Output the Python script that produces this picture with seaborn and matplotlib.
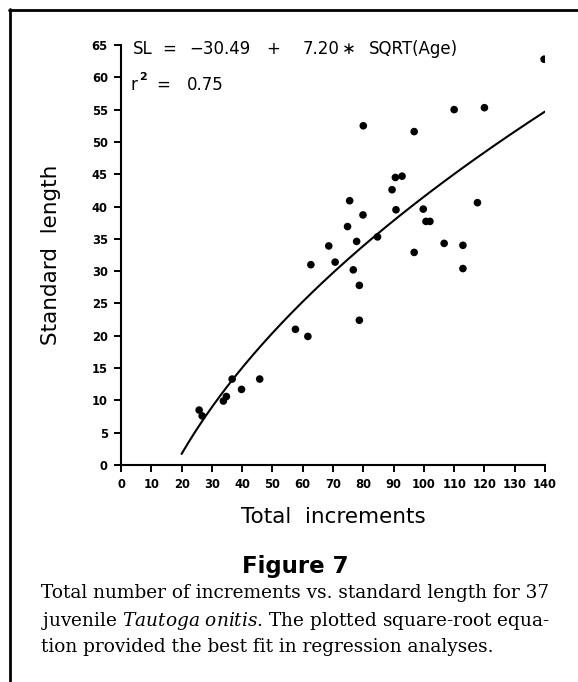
import numpy as np
import pandas as pd
import matplotlib
matplotlib.use("Agg")
import matplotlib.pyplot as plt
import seaborn as sns
from matplotlib.lines import Line2D

# ---- data ----
increments = [25.8, 26.8, 33.8, 34.8, 36.7, 39.8, 45.8, 57.6, 61.7, 62.7,
              68.6, 70.7, 74.8, 75.5, 76.7, 77.8, 78.7, 78.7, 79.9, 80.0,
              84.7, 89.5, 90.6, 90.8, 92.8, 96.8, 96.8, 99.8, 100.7, 102.0,
              106.7, 110.0, 112.9, 112.9, 117.7, 120.0, 139.7]
std_length = [8.5, 7.6, 9.9, 10.6, 13.3, 11.7, 13.3, 21.0, 19.9, 31.0,
              33.9, 31.4, 36.9, 40.9, 30.2, 34.6, 27.8, 22.4, 38.7, 52.5,
              35.3, 42.6, 44.5, 39.5, 44.7, 51.6, 32.9, 39.6, 37.7, 37.7,
              34.3, 55.0, 34.0, 30.4, 40.6, 55.3, 62.8]
fit_intercept = -30.49
fit_slope = 7.20
fit_range = [20, 140]
xticks = list(range(0, 141, 10))
yticks = list(range(0, 66, 5))

df = pd.DataFrame({"x": increments, "y": std_length})
xf = np.linspace(fit_range[0], fit_range[1], 300)
fit_df = pd.DataFrame({"x": xf, "y": fit_intercept + fit_slope * np.sqrt(xf)})

sns.set_theme(style="white")
plt.rcParams["font.family"] = ["DejaVu Sans"]
plt.rcParams["mathtext.fontset"] = "custom"
plt.rcParams["mathtext.rm"] = "DejaVu Serif"
plt.rcParams["mathtext.it"] = "DejaVu Serif:italic"

W, H = 578, 682
fig = plt.figure(figsize=(W / 100, H / 100), dpi=100)
fig.patch.set_facecolor("white")

def fx(px):
    return px / W

def fy(py):
    return 1 - py / H

ax = fig.add_axes([fx(121), fy(465), 424 / W, 420 / H])
sns.scatterplot(data=df, x="x", y="y", ax=ax, s=30, color="black",
                edgecolor="none", linewidth=0, legend=False)
sns.lineplot(data=fit_df, x="x", y="y", ax=ax, color="black", lw=1.5)

ax.set_xlim(0, 140)
ax.set_ylim(0, 65)
ax.set_xticks(xticks)
ax.set_yticks(yticks)
ax.set_xticklabels([str(t) for t in xticks])
ax.set_yticklabels([str(t) for t in yticks])
ax.tick_params(axis="both", direction="out", length=5, width=1.4,
               color="black", labelsize=8.3, labelcolor="black", pad=4.5,
               bottom=True, left=True)
for lab in ax.get_xticklabels() + ax.get_yticklabels():
    lab.set_fontweight("bold")
for s in ["top", "right"]:
    ax.spines[s].set_visible(False)
for s in ["left", "bottom"]:
    ax.spines[s].set_color("black")
    ax.spines[s].set_linewidth(1.5)
ax.set_xlabel("")
ax.set_ylabel("")
ax.grid(False)

# axis titles
fig.text(fx(333), fy(517), "Total  increments", ha="center", va="center",
         fontsize=15.5, color="black")
fig.text(fx(51), fy(255), "Standard  length", ha="center", va="center",
         rotation=90, fontsize=15.5, color="black")

# equation, pieces centred where they sit in the reference
eq_size = 12
eq_pieces = [(143, "SL"), (169, "="), (220, "\u221230.49"), (273, "+"),
             (321, "7.20"), (349, "\u2217"), (413, "SQRT(Age)")]
for px, txt in eq_pieces:
    fig.text(fx(px), fy(54), txt, ha="center", va="baseline",
             fontsize=eq_size, color="black")
fig.text(fx(131), fy(90), "r", ha="left", va="baseline", fontsize=eq_size,
         color="black")
fig.text(fx(139), fy(80), "2", ha="left", va="baseline", fontsize=8,
         fontweight="bold", color="black")
fig.text(fx(163), fy(90), "=", ha="center", va="baseline", fontsize=eq_size,
         color="black")
fig.text(fx(205), fy(90), "0.75", ha="center", va="baseline", fontsize=eq_size,
         color="black")

# caption
fig.text(fx(295), fy(573), "Figure 7", ha="center", va="baseline",
         fontsize=16.5, fontweight="bold", color="black")
cap_lines = [
    "Total number of increments vs. standard length for 37",
    r"juvenile $Tautoga\ onitis$. The plotted square-root equa-",
    "tion provided the best fit in regression analyses.",
]
cap_base = [598, 625.5, 652]
for yb, line in zip(cap_base, cap_lines):
    fig.text(fx(41), fy(yb), line, ha="left", va="baseline",
             fontsize=13.3, family=["DejaVu Serif"], color="black")

# frame lines (left and top border)
fig.add_artist(Line2D([fx(10), fx(10)], [fy(9), fy(682)], transform=fig.transFigure,
                      color="black", lw=2))
fig.add_artist(Line2D([fx(9), fx(578)], [fy(9.5), fy(9.5)], transform=fig.transFigure,
                      color="black", lw=2))

fig.savefig("out.png", dpi=100, facecolor="white")
